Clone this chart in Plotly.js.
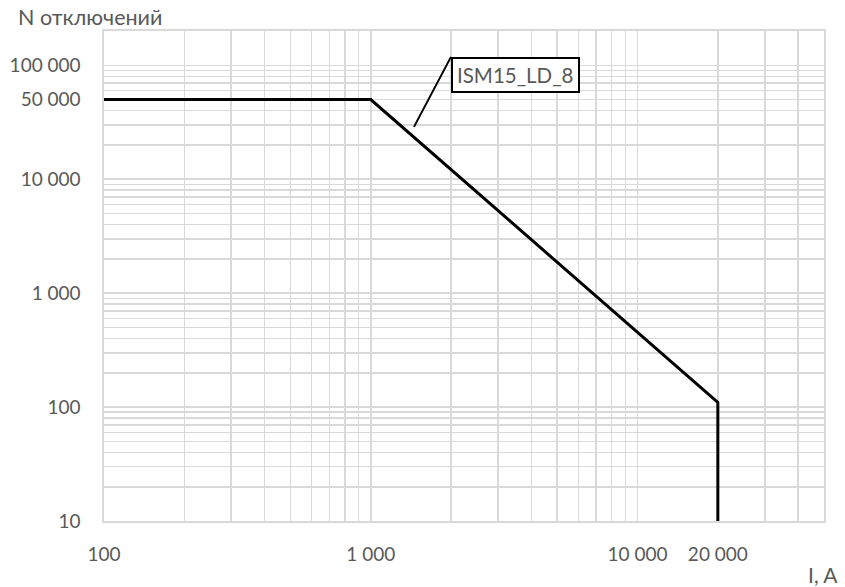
<!DOCTYPE html>
<html>
<head>
<meta charset="utf-8">
<script src="https://cdn.plot.ly/plotly-3.0.1.min.js"></script>
<style>html,body{margin:0;padding:0;background:#fff;}#chart{width:845px;height:587px;}</style>
</head>
<body>
<div id="chart"></div>
<script>
// Data
const currentA = [100, 1000, 20000, 20000];
const tripCount = [50000, 50000, 110, 10];
const seriesName = "ISM15_LD_8";

// Tick labels
const xTickVals = [100, 1000, 10000, 20000];
const xTickText = ["100", "1 000", "10 000", "20 000"];
const yTickVals = [10, 100, 1000, 10000, 50000, 100000];
const yTickText = ["10", "100", "1 000", "10 000", "50 000", "100 000"];

// Minor grid values (1..9 per decade)
function decadeGrid(lo, hi) {
  const v = [];
  for (let d = lo; d < hi; d *= 10) {
    for (let k = 1; k <= 9; k++) {
      const val = d * k;
      if (val <= hi) v.push(val);
    }
  }
  return v;
}
const xGrid = decadeGrid(100, 50000);
const yGrid = decadeGrid(10, 200000);

const gridColor = "#d9d9d9";
const labelColor = "#595959";
const fontFam = "Lato, 'Open Sans', sans-serif";

const trace = {
  x: currentA,
  y: tripCount,
  type: "scatter",
  mode: "lines",
  name: seriesName,
  line: {color: "#000000", width: 3},
  showlegend: false,
  hoverinfo: "x+y"
};

const layout = {
  width: 845,
  height: 587,
  margin: {l: 104, r: 21, t: 31, b: 66},
  paper_bgcolor: "#ffffff",
  plot_bgcolor: "#ffffff",
  font: {family: fontFam, size: 19, color: labelColor},
  xaxis: {
    type: "log",
    range: [2, Math.log10(50000)],
    tickmode: "array",
    tickvals: xTickVals,
    ticktext: xTickText,
    showgrid: true,
    gridcolor: gridColor,
    gridwidth: 1.6,
    minor: {tickmode: "array", tickvals: xGrid, showgrid: true, gridcolor: gridColor, gridwidth: 1.6, ticks: ""},
    showline: true,
    linecolor: gridColor,
    linewidth: 1.6,
    mirror: true,
    ticks: "",
    ticklabelstandoff: 16,
    zeroline: false,
    tickfont: {family: fontFam, size: 19, color: labelColor}
  },
  yaxis: {
    type: "log",
    range: [1, Math.log10(200000)],
    tickmode: "array",
    tickvals: yTickVals,
    ticktext: yTickText,
    showgrid: true,
    gridcolor: gridColor,
    gridwidth: 1.6,
    minor: {tickmode: "array", tickvals: yGrid, showgrid: true, gridcolor: gridColor, gridwidth: 1.6, ticks: ""},
    showline: true,
    linecolor: gridColor,
    linewidth: 1.6,
    mirror: true,
    ticks: "",
    ticklabelstandoff: 18,
    zeroline: false,
    tickfont: {family: fontFam, size: 19, color: labelColor}
  },
  annotations: [
    {
      x: Math.log10(1452), y: Math.log10(28800),
      xref: "x", yref: "y",
      text: seriesName,
      showarrow: true,
      arrowhead: 0,
      arrowwidth: 2,
      arrowcolor: "#000000",
      axref: "pixel", ayref: "pixel",
      ax: 37, ay: -70,
      xanchor: "left", yanchor: "top",
      bgcolor: "#ffffff",
      bordercolor: "#000000",
      borderwidth: 2,
      borderpad: 4,
      font: {family: fontFam, size: 20.5, color: labelColor}
    },
    {
      x: -0.1222, y: 1.0286, xref: "paper", yref: "paper",
      xanchor: "left", yanchor: "middle",
      text: "N отключений", showarrow: false,
      font: {family: fontFam, size: 21.5, color: labelColor}
    },
    {
      x: 1.0222, y: -0.110, xref: "paper", yref: "paper",
      xanchor: "right", yanchor: "middle",
      text: "I, A", showarrow: false,
      font: {family: fontFam, size: 21, color: labelColor}
    }
  ]
};

Plotly.newPlot("chart", [trace], layout, {staticPlot: true, displayModeBar: false});
</script>
</body>
</html>
